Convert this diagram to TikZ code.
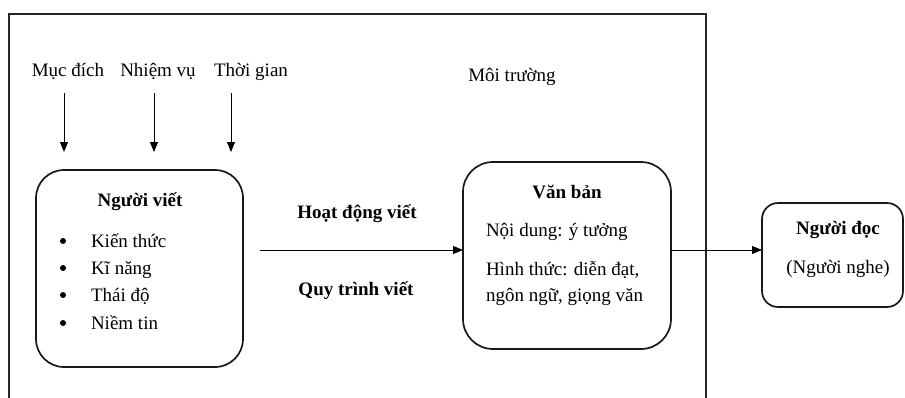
\documentclass[tikz,border=0pt]{standalone}
\usepackage{fontspec}
\setmainfont{Liberation Serif}
\usetikzlibrary{arrows.meta}
\begin{document}
\begin{tikzpicture}[x=1pt,y=-1pt,
  every node/.style={inner sep=0pt,outer sep=0pt,font=\fontsize{19}{23}\selectfont},
  frame/.style={line width=1.6pt,draw=black!85},
  box/.style={draw=black!90,line width=1.7pt,rectangle},
  arr/.style={line width=0.8pt,-{Triangle[length=10pt,width=8pt]}},
  dot/.style={circle,fill=black,minimum size=6pt},
  txt/.style={anchor=base},
  ttl/.style={anchor=base,font=\fontsize{19}{23}\selectfont\bfseries},
  lft/.style={anchor=base west}]
\useasboundingbox (0,0) rectangle (905,397);
% outer environment frame (open at bottom)
\draw[frame] (9,400) -- (9,14) -- (706,14) -- (706,400);
% boxes
\node[box,rounded corners=28pt,minimum width=207pt,minimum height=197pt] (nv) at (139.5,268.5) {};
\node[box,rounded corners=30pt,minimum width=208pt,minimum height=187pt] (vb) at (567,255.5) {};
\node[box,rounded corners=16pt,minimum width=141pt,minimum height=104pt] (nd) at (832.5,255) {};
% top labels
\node[txt] (md) at (68,76) {Mục đích};
\node[txt] (nvu) at (158,76) {Nhiệm vụ};
\node[txt] (tg) at (251,76) {Thời gian};
\node[txt] (mt) at (512,81) {Môi trường};
\coordinate (a1) at (64,93);
\coordinate (a2) at (154,93);
\coordinate (a3) at (231,93);
\draw[arr] (a1) -- ++(0,59);
\draw[arr] (a2) -- ++(0,59);
\draw[arr] (a3) -- ++(0,59);
% Người viết content
\node[ttl] (nvt) at (140,206) {Người viết};
\node[dot] (b1) at (63,241) {};
\node[dot] (b2) at (63,268) {};
\node[dot] (b3) at (63,295) {};
\node[dot] (b4) at (63,323) {};
\node[lft] (k1) at (91,247) {Kiến thức};
\node[lft] (k2) at (91,274) {Kĩ năng};
\node[lft] (k3) at (91,301) {Thái độ};
\node[lft] (k4) at (91,329) {Niềm tin};
% middle arrow and labels
\coordinate (hs) at (260,250);
\draw[arr] (hs) -- (hs -| vb.west);
\node[ttl] (hd) at (357,218) {Hoạt động viết};
\node[ttl] (qt) at (356,295) {Quy trình viết};
% Văn bản content
\node[ttl] (vbt) at (567,198) {Văn bản};
\node[lft] (v1) at (486,236) {Nội dung: ý tưởng};
\node[lft] (v2) at (486,275) {Hình thức: diễn đạt,};
\node[lft] (v3) at (486,301) {ngôn ngữ, giọng văn};
% arrow to reader
\coordinate (vs) at (vb.east |- hs);
\draw[arr] (vs) -- (vs -| nd.west);
% Người đọc content
\node[ttl] (ndt) at (838,234) {Người đọc};
\node[txt] (ndn) at (838,273) {(Người nghe)};
\end{tikzpicture}
\end{document}
